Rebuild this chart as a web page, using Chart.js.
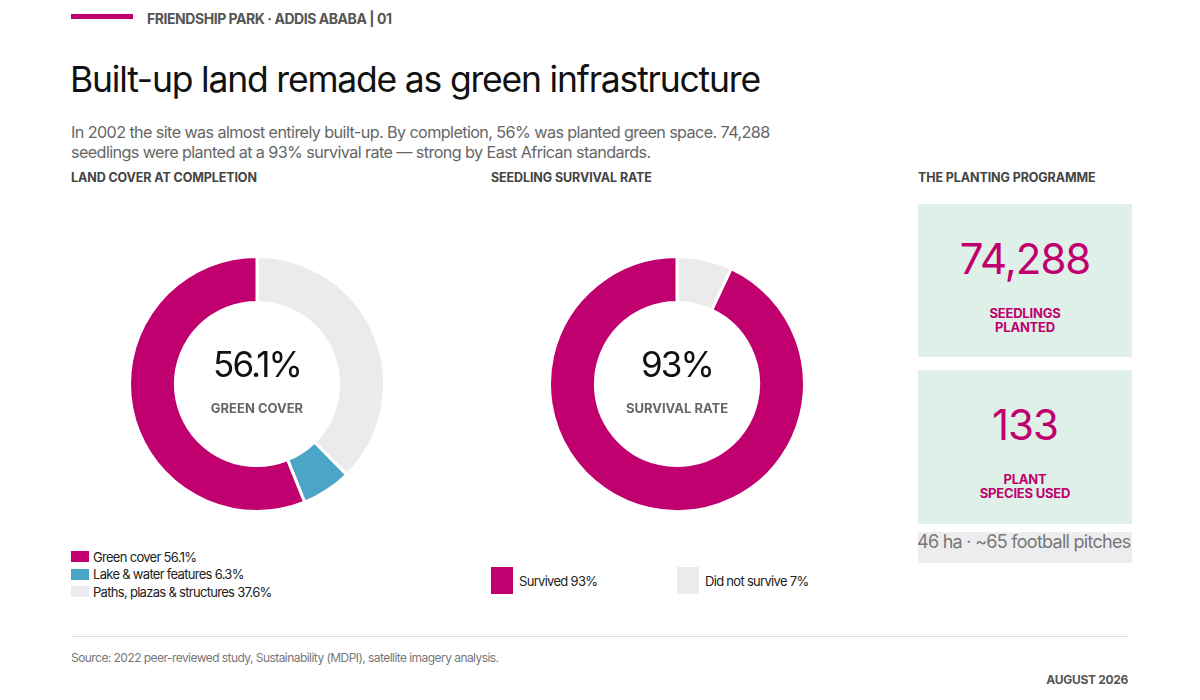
<!DOCTYPE html>
<html>
<head>
<meta charset="utf-8">
<script src="https://cdn.jsdelivr.net/npm/chart.js@4.4.1/dist/chart.umd.min.js"></script>
<style>
  body { margin: 0; background: #fff; font-family: Inter, "Noto Sans", sans-serif; }
  #page { position: relative; width: 1200px; height: 700px; overflow: hidden; }
  .abs { position: absolute; }
  .bar { left: 71px; top: 14px; width: 62px; height: 5px; background: #C0006E; }
  .kicker { left: 147px; top: 10px; font-size: 14px; font-weight: 700; color: #555; letter-spacing: -0.45px; }
  .title { left: 70px; top: 58px; font-size: 35.5px; font-weight: 400; color: #111; letter-spacing: -1.2px; white-space: nowrap; }
  .sub { left: 71px; top: 122px; width: 720px; font-size: 16.2px; line-height: 20px; color: #666; letter-spacing: -0.6px; }
  .sect { top: 170px; font-size: 12.5px; font-weight: 700; color: #444; letter-spacing: -0.1px; }
  .donut { width: 258px; height: 258px; }
  .big { font-size: 35px; color: #111; letter-spacing: -1.9px; text-align: center; width: 258px; }
  .cap { font-size: 13px; font-weight: 700; color: #666; text-align: center; width: 258px; letter-spacing: 0px; }
  .leg { font-size: 13px; color: #222; letter-spacing: -0.7px; }
  .leg .row { display: flex; align-items: center; height: 17.5px; }
  .leg .sw { width: 18px; height: 11px; margin-right: 4px; }
  .box { left: 918px; width: 214px; background: #DFF0E8; text-align: center; color: #C0006E; }
  .box .num { font-size: 42px; letter-spacing: -1px; }
  .box .lab { font-size: 13px; font-weight: 700; line-height: 14px; letter-spacing: -0.2px; }
  .band { left: 918px; top: 532px; width: 214px; height: 31px; background: #EDEDEF; }
  .bandtxt { left: 917px; top: 531px; font-size: 18px; color: #777; white-space: nowrap; letter-spacing: -0.72px; }
  .rule { left: 71px; top: 636px; width: 1057px; height: 1px; background: #DDD; }
  .src { left: 71px; top: 650px; font-size: 12px; color: #777; letter-spacing: -0.55px; }
  .date { right: 72px; top: 672px; font-size: 12px; font-weight: 700; color: #555; letter-spacing: -0.3px; }
</style>
</head>
<body>
<div id="page">
  <div class="abs bar"></div>
  <div class="abs kicker">FRIENDSHIP PARK · ADDIS ABABA | 01</div>
  <div class="abs title">Built-up land remade as green infrastructure</div>
  <div class="abs sub">In 2002 the site was almost entirely built-up. By completion, 56% was planted green space. 74,288 seedlings were planted at a 93% survival rate — strong by East African standards.</div>

  <div class="abs sect" style="left:71px">LAND COVER AT COMPLETION</div>
  <div class="abs sect" style="left:491px">SEEDLING SURVIVAL RATE</div>
  <div class="abs sect" style="left:918px">THE PLANTING PROGRAMME</div>

  <div class="abs donut" style="left:128px; top:255px"><canvas id="landChart"></canvas></div>
  <div class="abs big" style="left:128px; top:343px">56.1%</div>
  <div class="abs cap" style="left:128px; top:400px">GREEN COVER</div>

  <div class="abs donut" style="left:548px; top:255px"><canvas id="survChart"></canvas></div>
  <div class="abs big" style="left:548px; top:343px">93%</div>
  <div class="abs cap" style="left:548px; top:400px">SURVIVAL RATE</div>

  <div class="abs leg" id="landLegend" style="left:71px; top:548px"></div>
  <div class="abs leg" id="survLegend" style="left:491px; top:567px"></div>

  <div class="abs box" style="top:204px; height:153px">
    <div class="num" style="margin-top:29px">74,288</div>
    <div class="lab" style="margin-top:22px">SEEDLINGS<br>PLANTED</div>
  </div>
  <div class="abs box" style="top:370px; height:154px">
    <div class="num" style="margin-top:29px">133</div>
    <div class="lab" style="margin-top:22px">PLANT<br>SPECIES USED</div>
  </div>
  <div class="abs band"></div>
  <div class="abs bandtxt">46 ha · ~65 football pitches</div>

  <div class="abs rule"></div>
  <div class="abs src">Source: 2022 peer-reviewed study, Sustainability (MDPI), satellite imagery analysis.</div>
  <div class="abs date">AUGUST 2026</div>
</div>

<script>
const landLabels = ["Green cover", "Lake & water features", "Paths, plazas & structures"];
const landValues = [56.1, 6.3, 37.6];
const landColors = ["#C0006E", "#4AA5C6", "#EBEBEE"];

const survLabels = ["Survived", "Did not survive"];
const survValues = [93, 7];
const survColors = ["#C0006E", "#EBEBEE"];

// slices run clockwise from the top in reverse legend order
function donut(id, labels, values, colors) {
    new Chart(document.getElementById(id), {
        type: "doughnut",
        data: {
            labels: labels.slice().reverse(),
            datasets: [{
                data: values.slice().reverse(),
                backgroundColor: colors.slice().reverse(),
                borderColor: "#ffffff",
                borderWidth: 3
            }]
        },
        options: {
            responsive: true,
            maintainAspectRatio: false,
            animation: false,
            cutout: "64%",
            plugins: {
                legend: { display: false },
                tooltip: { enabled: false }
            }
        }
    });
}

donut("landChart", landLabels, landValues, landColors);
donut("survChart", survLabels, survValues, survColors);

const landLegend = document.getElementById("landLegend");
landLabels.forEach((label, i) => {
    let row = document.createElement("div");
    row.className = "row";
    row.innerHTML = `<span class="sw" style="background:${landColors[i]}"></span>${label} ${landValues[i]}%`;
    landLegend.appendChild(row);
});

const survLegend = document.getElementById("survLegend");
survLabels.forEach((label, i) => {
    let item = document.createElement("div");
    item.style.cssText = `position:absolute; top:0; left:${i * 186}px; display:flex; align-items:center; white-space:nowrap;`;
    item.innerHTML = `<span style="display:inline-block; width:22px; height:27px; margin-right:6px; background:${survColors[i]}"></span>${label} ${survValues[i]}%`;
    survLegend.appendChild(item);
});
</script>
</body>
</html>
